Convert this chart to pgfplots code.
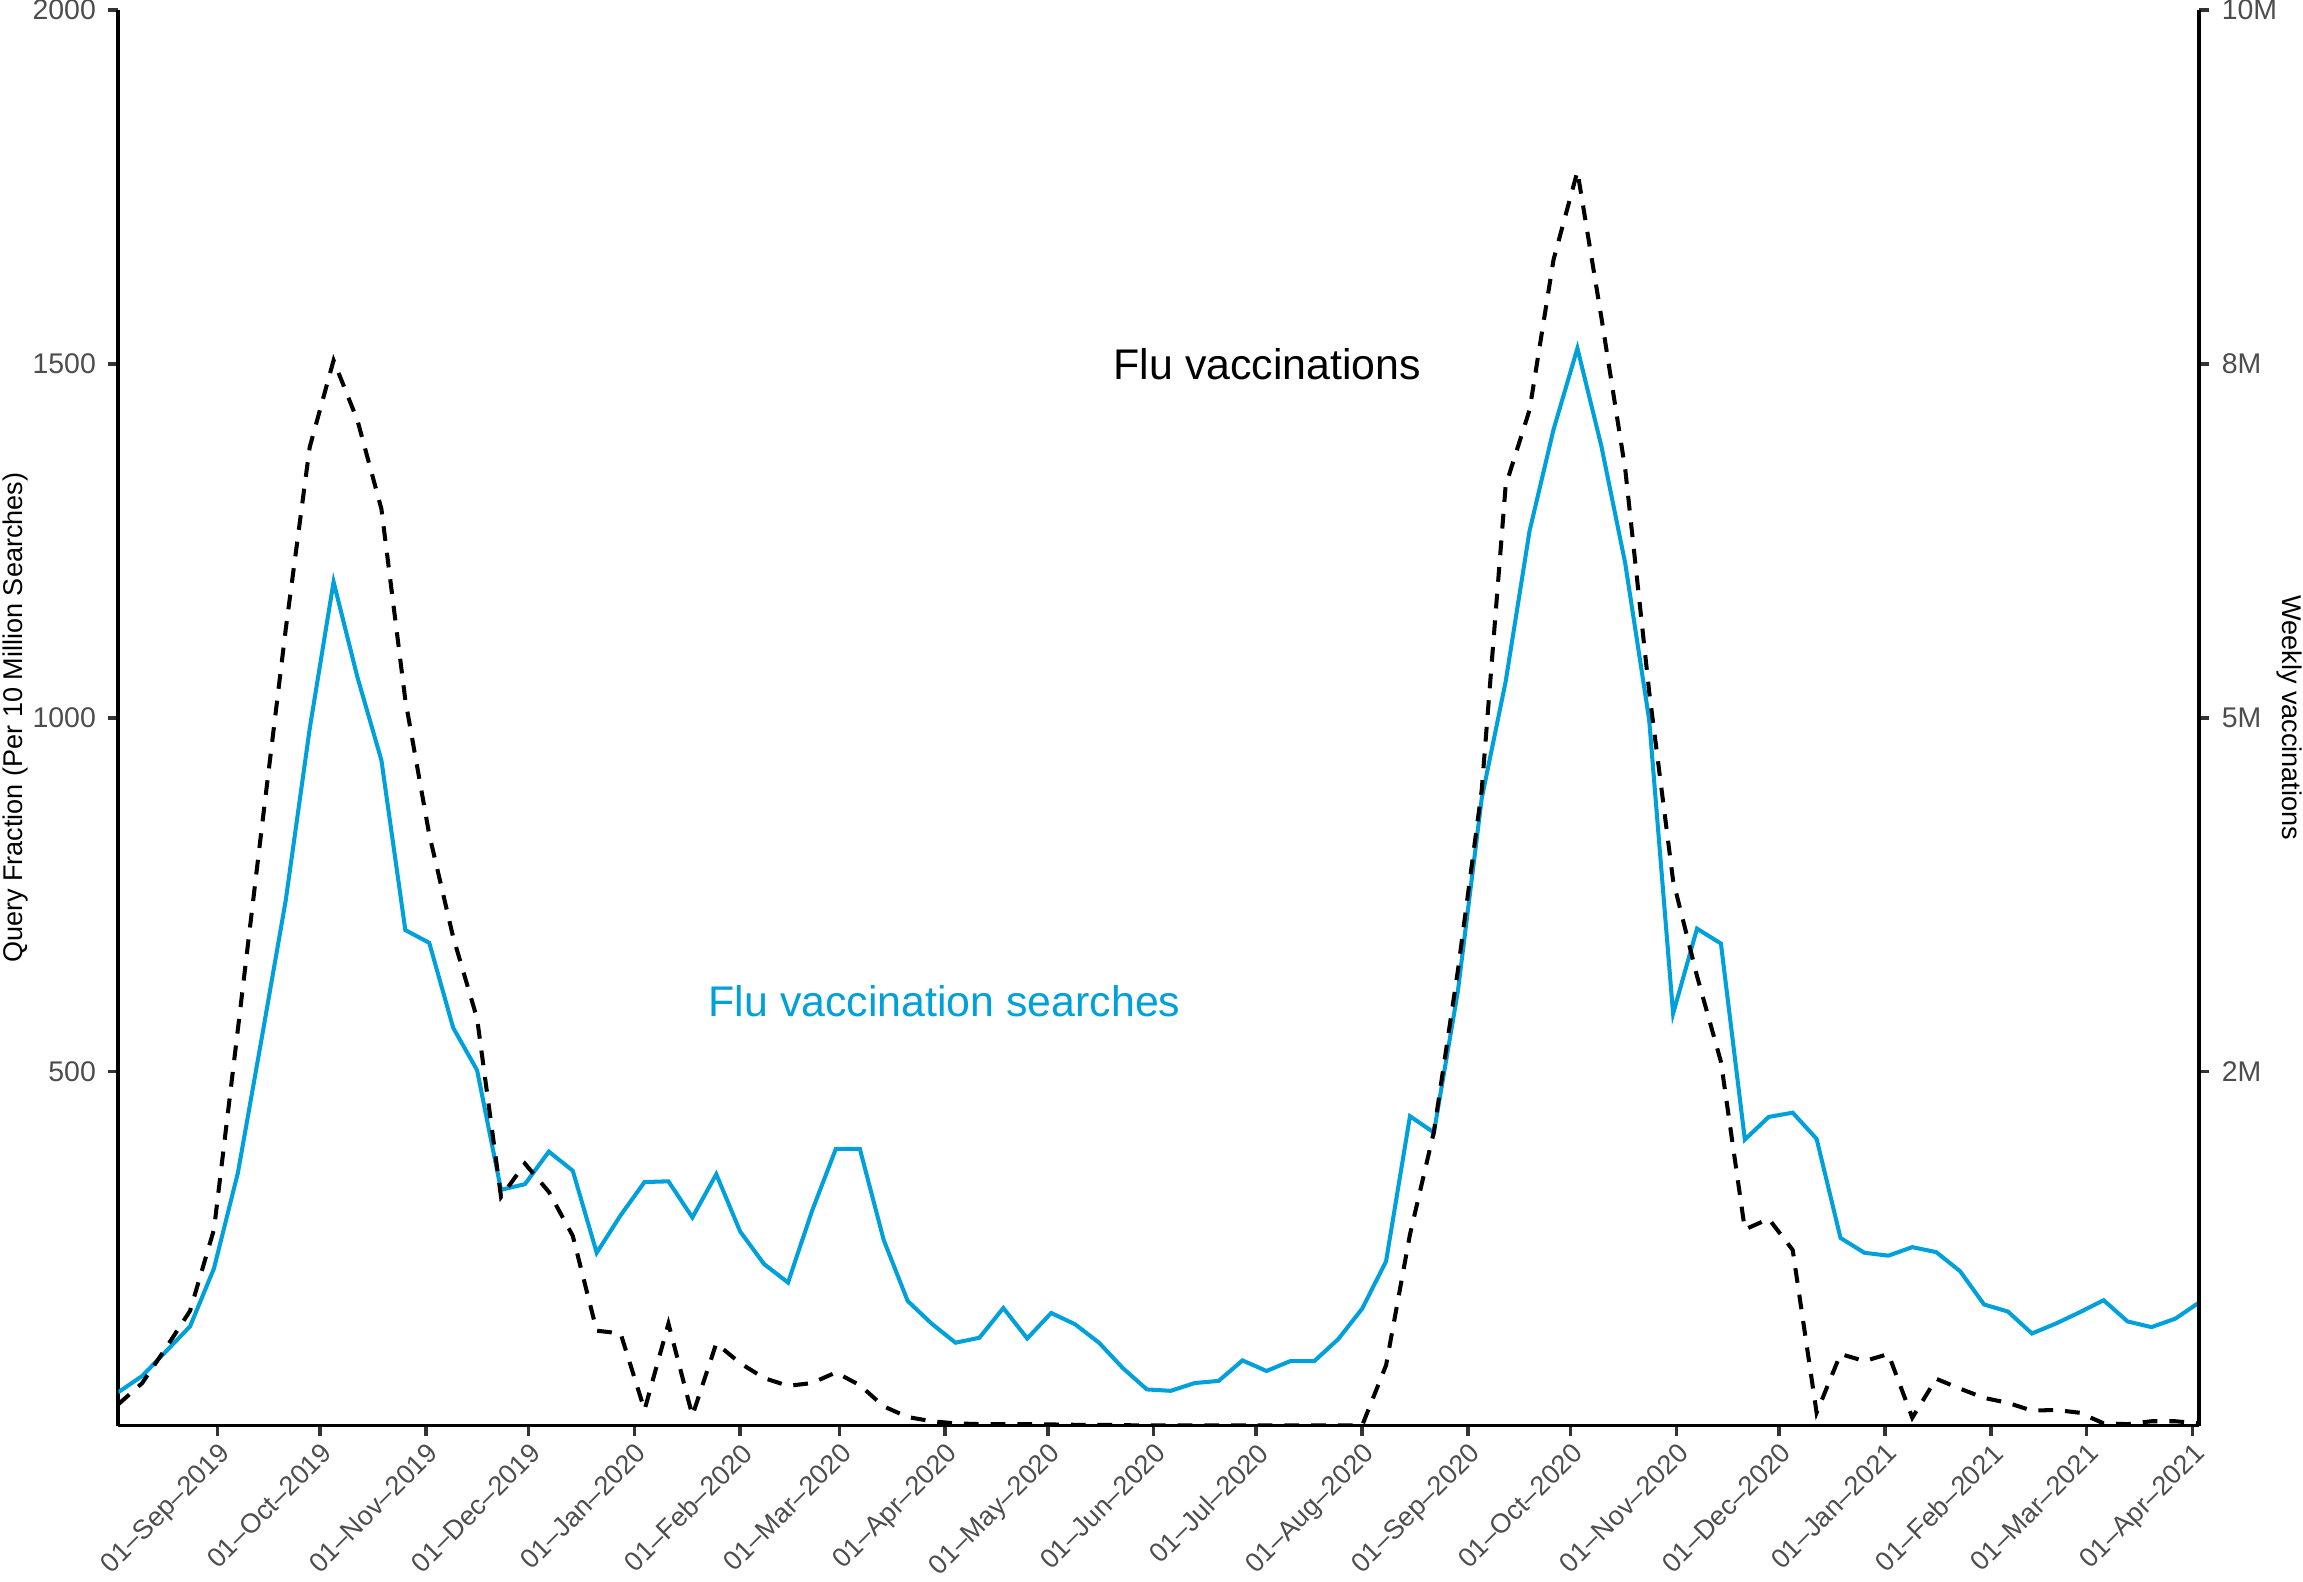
\documentclass[border=0pt]{standalone}
\usepackage{fontspec}
\setmainfont{Liberation Sans}
\usepackage{pgfplots}
\pgfplotsset{compat=1.18}
\definecolor{flublue}{RGB}{0,160,219}
\definecolor{tickgray}{RGB}{77,77,77}
\definecolor{tickmark}{RGB}{51,51,51}

\begin{document}
\begin{tikzpicture}
\pgfplotsset{
  base/.style={
    width=208.1mm, height=141.55mm, scale only axis,
    at={(0,0)}, anchor=south west,
    xmin=-29, xmax=580,
    enlargelimits=false,
    tick align=outside,
    major tick length=1mm,
    tick style={line width=1pt, color=tickmark},
    axis line style={-, line width=1.1pt, black},
    ticklabel style={font=\fontsize{8.1}{9.5}\selectfont, text=tickgray},
    /pgf/number format/assume math mode=true,
    label style={font=\fontsize{7.7}{9}\selectfont, text=black},
  }
}
\begin{axis}[base,
  axis x line*=bottom, axis y line*=left,
  ymin=0, ymax=2000,
  ytick={500,1000,1500,2000},
  yticklabel style={/pgf/number format/1000 sep={}},
  xtick={0,30,61,91,122,153,182,213,243,274,304,335,366,396,427,457,488,519,547,578},
  xticklabels={01–Sep–2019,01–Oct–2019,01–Nov–2019,01–Dec–2019,01–Jan–2020,01–Feb–2020,01–Mar–2020,01–Apr–2020,01–May–2020,01–Jun–2020,01–Jul–2020,01–Aug–2020,01–Sep–2020,01–Oct–2020,01–Nov–2020,01–Dec–2020,01–Jan–2021,01–Feb–2021,01–Mar–2021,01–Apr–2021},
  xticklabel style={rotate=45, anchor=north east, inner sep=1pt, font=\fontsize{7.7}{9}\selectfont},
  ylabel={Query Fraction (Per 10 Million Searches)},
  ylabel style={at={(axis description cs:-0.0494,0.5)}, anchor=center},
]
\addplot[flublue, line width=1.15pt] coordinates {
(-29,47) (-22,70) (-15,105) (-8,140) (-1,222) (6,357) (13,548) (20,742) (27,984) (34,1192)
(41,1057) (48,940) (55,700) (62,682) (69,562) (76,502) (83,333) (90,341) (97,387) (104,360)
(111,244) (118,297) (125,344) (132,345) (139,294) (146,355) (153,274) (160,228) (167,202) (174,303)
(181,391) (188,391) (195,262) (202,176) (209,144) (216,117) (223,124) (230,166) (237,123) (244,159)
(251,143) (258,117) (265,81) (272,51) (279,49) (286,60) (293,63) (300,92) (307,77) (314,91)
(321,91) (328,122) (335,165) (342,232) (349,437) (356,414) (363,613) (370,886) (377,1051) (384,1264)
(391,1407) (398,1522) (405,1384) (412,1218) (419,997) (426,582) (433,702) (440,681) (447,404) (454,436)
(461,442) (468,405) (475,265) (482,244) (489,240) (496,252) (503,245) (510,218) (517,171) (524,161)
(531,130) (538,144) (545,160) (552,177) (559,147) (566,139) (573,151) (580,174)
};
\node[text=flublue, font=\fontsize{12.2}{14}\selectfont] at (axis cs:212.8,600) {Flu vaccination searches};
\node[text=black, font=\fontsize{12.2}{14}\selectfont] at (axis cs:307.3,1500) {Flu vaccinations};
\end{axis}
\begin{axis}[base,
  axis x line=none, axis y line*=right,
  ymin=0, ymax=10000000,
  ytick={2500000,5000000,7500000,10000000},
  yticklabels={2M,5M,8M,10M},
  ylabel={Weekly vaccinations},
  ylabel style={rotate=180, at={(axis description cs:1.0432,0.5)}, anchor=center},
]
\addplot[black, line width=1.15pt, dash pattern=on 4.2pt off 3.4pt] coordinates {
(-29,150000) (-22,300000) (-15,550000) (-8,810000) (-1,1385000) (6,2800000) (13,4225000) (20,5625000) (27,6910000) (34,7525000)
(41,7100000) (48,6475000) (55,5125000) (62,4175000) (69,3450000) (76,2875000) (83,1615000) (90,1850000) (97,1650000) (104,1340000)
(111,670000) (118,650000) (125,110000) (132,720000) (139,70000) (146,580000) (153,440000) (160,335000) (167,280000) (174,300000)
(181,375000) (188,285000) (195,135000) (202,60000) (209,30000) (216,15000) (223,10000) (230,10000) (237,10000) (244,7500)
(251,5000) (258,5000) (265,2500) (272,0) (279,0) (286,0) (293,0) (300,0) (307,0) (314,0)
(321,0) (328,0) (335,0) (342,425000) (349,1350000) (356,2075000) (363,3210000) (370,4490000) (377,6640000) (384,7175000)
(391,8235000) (398,8860000) (405,7830000) (412,6755000) (419,5185000) (426,3850000) (433,3175000) (440,2570000) (447,1385000) (454,1460000)
(461,1240000) (468,90000) (475,505000) (482,455000) (489,505000) (496,55000) (503,330000) (510,260000) (517,195000) (524,160000)
(531,105000) (538,110000) (545,90000) (552,15000) (559,10000) (566,30000) (573,30000) (580,15000)
};
\end{axis}
\pgfresetboundingbox
\path[use as bounding box] (-11.83mm,-15.55mm) rectangle (218.47mm,142.55mm);
\end{tikzpicture}
\end{document}
